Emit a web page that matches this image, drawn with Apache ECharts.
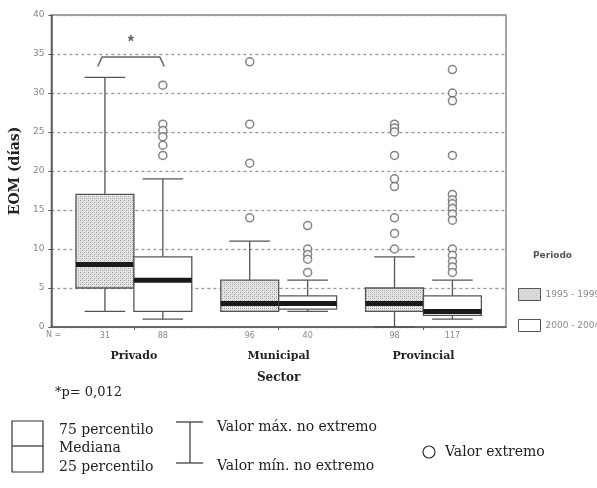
<!DOCTYPE html>
<html>
<head>
<meta charset="utf-8">
<script src="https://cdn.jsdelivr.net/npm/echarts@6/dist/echarts.min.js"></script>
<style>
html, body { margin: 0; padding: 0; background: #fff; }
#chart { width: 597px; height: 488px; }
</style>
</head>
<body>
<div id="chart"></div>
<script>
// datos
var sectors = ['Privado', 'Municipal', 'Provincial'];
var periods = ['1995 - 1999', '2000 - 2004'];
var sectorPos = [1, 2, 3];
var periodOffset = [-0.2, 0.2];
var nCounts1995 = [31, 96, 98];
var nCounts2000 = [88, 40, 117];
// [min no extremo, P25, mediana, P75, max no extremo]
var box1995 = [[2, 5, 8, 17, 32], [2, 2, 3, 6, 11], [0, 2, 3, 5, 9]];
var box2000 = [[1, 2, 6, 9, 19], [2, 2.3, 3, 4, 6], [1, 1.5, 2, 4, 6]];
// valores extremos
var extremes1995 = [[], [34, 26, 21, 14], [26, 25.5, 25, 22, 19, 18, 14, 12, 10]];
var extremes2000 = [[31, 26, 25.2, 24.4, 23.3, 22], [13, 10, 9.3, 8.7, 7],
    [33, 30, 29, 22, 17, 16.3, 15.8, 15.2, 14.5, 13.7, 10, 9.2, 8.4, 7.7, 7]];
var yMin = 0, yMax = 40, yStep = 5;
// significancia Privado
var sigBracket = [[0.75, 33.4], [0.78, 34.6], [1.18, 34.6], [1.21, 33.4]];
var sigStar = [0.98, 36.4];

function makeHatch() {
    var c = document.createElement('canvas');
    c.width = 4;
    c.height = 4;
    var ctx = c.getContext('2d');
    ctx.fillStyle = '#e4e4e4';
    ctx.fillRect(0, 0, 4, 4);
    ctx.fillStyle = '#a0a0a0';
    ctx.fillRect(0, 0, 1, 1);
    ctx.fillRect(2, 2, 1, 1);
    ctx.fillStyle = '#c4c4c4';
    ctx.fillRect(2, 0, 1, 1);
    ctx.fillRect(0, 2, 1, 1);
    return c;
}
var hatch = { image: makeHatch(), repeat: 'repeat' };

function boxRows(boxes, counts, off) {
    return boxes.map(function (b, i) {
        return [sectorPos[i] + off, b[0], b[1], b[2], b[3], b[4], counts[i]];
    });
}

function extremePoints(ext, off) {
    var pts = [];
    ext.forEach(function (vals, i) {
        vals.forEach(function (v) {
            pts.push([sectorPos[i] + off, v]);
        });
    });
    return pts;
}

function makeRender(fill) {
    return function (params, api) {
        var x = api.value(0);
        var lo = api.coord([x, api.value(1)]);
        var q1 = api.coord([x, api.value(2)]);
        var med = api.coord([x, api.value(3)]);
        var q3 = api.coord([x, api.value(4)]);
        var hi = api.coord([x, api.value(5)]);
        var base = api.coord([x, 0]);
        var boxW = api.size([0.4, 0])[0];
        var capW = api.size([0.28, 0])[0];
        var line = { stroke: '#555', lineWidth: 1.3 };
        return {
            type: 'group',
            children: [
                { type: 'line', shape: { x1: hi[0], y1: hi[1], x2: lo[0], y2: lo[1] }, style: line },
                { type: 'line', shape: { x1: hi[0] - capW / 2, y1: hi[1], x2: hi[0] + capW / 2, y2: hi[1] }, style: line },
                { type: 'line', shape: { x1: lo[0] - capW / 2, y1: lo[1], x2: lo[0] + capW / 2, y2: lo[1] }, style: line },
                { type: 'rect', shape: { x: q3[0] - boxW / 2, y: q3[1], width: boxW, height: q1[1] - q3[1] },
                  style: { fill: fill, stroke: '#555', lineWidth: 1.3 } },
                { type: 'rect', shape: { x: med[0] - boxW / 2, y: med[1] - 2.5, width: boxW, height: 5 },
                  style: { fill: '#1a1a1a' } },
                { type: 'text', x: base[0], y: base[1] + 9,
                  style: { text: String(api.value(6)), align: 'center', verticalAlign: 'middle',
                           fill: '#888', font: '8px "DejaVu Sans"' } }
            ]
        };
    };
}

var serif = '"DejaVu Serif", serif';
var legendFont = '14px ' + serif;

var option = {
    animation: false,
    backgroundColor: '#fff',
    grid: { left: 51, right: 91, top: 15, bottom: 161, show: true, borderColor: '#888', borderWidth: 1.5 },
    title: {
        text: 'Periodo', left: 528, top: 246,
        textStyle: { fontSize: 9, fontWeight: 'bold', color: '#555', fontFamily: '"DejaVu Sans"' }
    },
    legend: {
        orient: 'vertical', left: 513, top: 283, icon: 'rect',
        itemWidth: 22, itemHeight: 12, itemGap: 18,
        textStyle: { fontSize: 9, color: '#888', fontFamily: '"DejaVu Sans"' },
        data: [
            { name: periods[0], itemStyle: { color: hatch, borderColor: '#555', borderWidth: 1 } },
            { name: periods[1], itemStyle: { color: '#fff', borderColor: '#555', borderWidth: 1 } }
        ]
    },
    xAxis: {
        type: 'value', min: 0.43, max: 3.57,
        name: 'Sector', nameLocation: 'middle', nameGap: 45,
        nameTextStyle: { fontFamily: serif, fontSize: 12, fontWeight: 'bold', color: '#222' },
        axisLine: { lineStyle: { color: '#555', width: 1.5 } },
        axisTick: { show: true, customValues: sectorPos, length: 3, lineStyle: { color: '#555' } },
        axisLabel: {
            customValues: sectorPos, margin: 24,
            formatter: function (v) { return sectors[Math.round(v) - 1]; },
            fontFamily: serif, fontSize: 11, fontWeight: 'bold', color: '#222'
        },
        splitLine: { show: false }
    },
    yAxis: {
        type: 'value', min: yMin, max: yMax, interval: yStep,
        name: 'EOM (días)', nameLocation: 'middle', nameGap: 25,
        nameTextStyle: { fontFamily: serif, fontSize: 14, fontWeight: 'bold', color: '#222' },
        axisLine: { show: true, lineStyle: { color: '#555', width: 1.5 } },
        axisTick: { show: true, length: 3, lineStyle: { color: '#555' } },
        axisLabel: { fontSize: 9, color: '#888', margin: 7, fontFamily: '"DejaVu Sans"' },
        splitLine: { show: true, lineStyle: { color: '#999', width: 1.3, type: [3, 3] } }
    },
    graphic: [
        { type: 'text', left: 46, top: 331, style: { text: 'N =', fill: '#888', font: '8px "DejaVu Sans"' } },
        { type: 'text', x: 55, y: 393, style: { text: '*p= 0,012', fill: '#222', font: '13px ' + serif, verticalAlign: 'middle' } },
        { type: 'rect', shape: { x: 12, y: 421, width: 31, height: 51 }, style: { fill: 'none', stroke: '#333', lineWidth: 1.2 } },
        { type: 'line', shape: { x1: 12, y1: 446, x2: 43, y2: 446 }, style: { stroke: '#333', lineWidth: 1.2 } },
        { type: 'text', x: 59, y: 430, style: { text: '75 percentilo', fill: '#222', font: legendFont, verticalAlign: 'middle' } },
        { type: 'text', x: 59, y: 448, style: { text: 'Mediana', fill: '#222', font: legendFont, verticalAlign: 'middle' } },
        { type: 'text', x: 59, y: 467, style: { text: '25 percentilo', fill: '#222', font: legendFont, verticalAlign: 'middle' } },
        { type: 'line', shape: { x1: 190, y1: 422, x2: 190, y2: 463 }, style: { stroke: '#333', lineWidth: 1.2 } },
        { type: 'line', shape: { x1: 176, y1: 422, x2: 203, y2: 422 }, style: { stroke: '#333', lineWidth: 1.2 } },
        { type: 'line', shape: { x1: 176, y1: 463, x2: 203, y2: 463 }, style: { stroke: '#333', lineWidth: 1.2 } },
        { type: 'text', x: 217, y: 427, style: { text: 'Valor máx. no extremo', fill: '#222', font: legendFont, verticalAlign: 'middle' } },
        { type: 'text', x: 217, y: 466, style: { text: 'Valor mín. no extremo', fill: '#222', font: legendFont, verticalAlign: 'middle' } },
        { type: 'circle', shape: { cx: 429, cy: 452, r: 6 }, style: { fill: 'none', stroke: '#333', lineWidth: 1.2 } },
        { type: 'text', x: 445, y: 452, style: { text: 'Valor extremo', fill: '#222', font: legendFont, verticalAlign: 'middle' } }
    ],
    series: [
        {
            name: periods[0], type: 'custom', renderItem: makeRender(hatch),
            itemStyle: { color: hatch, borderColor: '#555' },
            encode: { x: 0, y: [1, 2, 3, 4, 5] },
            data: boxRows(box1995, nCounts1995, periodOffset[0]), z: 3
        },
        {
            name: periods[1], type: 'custom', renderItem: makeRender('#fff'),
            itemStyle: { color: '#fff', borderColor: '#555' },
            encode: { x: 0, y: [1, 2, 3, 4, 5] },
            data: boxRows(box2000, nCounts2000, periodOffset[1]), z: 3
        },
        {
            type: 'scatter', symbol: 'circle', symbolSize: 8, z: 4,
            itemStyle: { color: '#fff', borderColor: '#666', borderWidth: 1.5 },
            data: extremePoints(extremes1995, periodOffset[0]).concat(extremePoints(extremes2000, periodOffset[1]))
        },
        {
            type: 'line', data: sigBracket, symbol: 'none', z: 4,
            lineStyle: { color: '#666', width: 1.5 }
        },
        {
            type: 'scatter', data: [sigStar], symbolSize: 0, z: 4,
            label: { show: true, formatter: '*', position: 'inside', fontSize: 16, fontWeight: 'bold', color: '#333' }
        }
    ]
};

var myChart = echarts.init(document.getElementById('chart'));
myChart.setOption(option);
</script>
</body>
</html>
